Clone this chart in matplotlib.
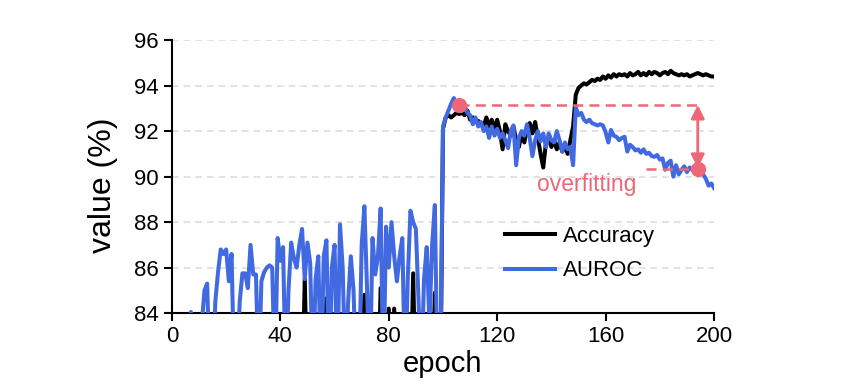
import numpy as np
import matplotlib
matplotlib.use('Agg')
import matplotlib.pyplot as plt

plt.rcParams['font.family'] = ['Liberation Sans', 'DejaVu Sans']

# epochs 0..200
epoch = np.arange(0, 201)

# accuracy (%) , values under 84 fall below the axis
accuracy = [
    80, 80, 80, 80, 80, 80, 80, 80, 80, 80,
    80, 80, 80, 80, 80, 80, 80, 80, 80, 80,
    80, 80, 80, 80, 80, 80, 80, 80, 80, 80,
    80, 80, 80, 80, 80, 80, 80, 80, 80, 80,
    80, 80, 80, 80, 80, 80, 80, 80, 80, 85.5,
    80, 80, 80, 80, 80, 80, 80, 84.65, 80, 80,
    80, 80, 80, 80, 80, 80, 80, 80, 80, 80,
    80, 84.8, 80, 80, 80, 80, 80, 85.1, 80, 80,
    84.2, 80, 84.2, 80, 80, 80, 80, 80, 80, 85.75,
    80, 80, 80, 80, 80, 80, 80, 84.9, 80, 80,
    92.1, 92.6, 92.7, 92.6, 92.7, 92.8, 92.75, 92.8, 92.7, 92.9,
    92.5, 92.6, 92.4, 92.45, 92.3, 92.2, 92.6, 92.2, 92.5, 92.1,
    92.5, 92.0, 91.2, 92.3, 92.0, 91.8, 92.2, 91.6, 91.3, 91.9,
    91.5, 92.1, 92.35, 91.9, 92.4, 91.7, 91.0, 90.4, 91.5, 91.7,
    91.3, 91.6, 91.2, 91.5, 91.1, 91.3, 91.0, 91.6, 92.2, 93.6,
    93.9, 94.0, 94.1, 94.05, 94.15, 94.25, 94.2, 94.3, 94.25, 94.4,
    94.3, 94.45, 94.35, 94.5, 94.4, 94.5, 94.45, 94.5, 94.4, 94.55,
    94.45, 94.5, 94.6, 94.45, 94.55, 94.45, 94.6, 94.5, 94.6, 94.55,
    94.45, 94.55, 94.6, 94.5, 94.65, 94.55, 94.5, 94.45, 94.5, 94.45,
    94.5, 94.4, 94.45, 94.5, 94.55, 94.5, 94.45, 94.5, 94.45, 94.4,
    94.4,
]

# AUROC (%)
auroc = [
    80, 80, 80, 80, 80, 80, 80, 84.05, 82, 80,
    80, 83.5, 85.0, 85.3, 81, 81, 84.5, 85.8, 86.8, 86.6,
    86.8, 85.4, 86.6, 81, 81, 84.5, 85.75, 85.75, 85.1, 87.0,
    85.7, 85.7, 81, 85.4, 85.8, 86.0, 86.1, 86.0, 81, 87.3,
    86.3, 86.9, 81, 85.0, 87.1, 86.4, 86.0, 87.0, 87.7, 85.5,
    87.1, 86.2, 81, 85.5, 86.5, 81, 86.5, 87.2, 81, 86.0,
    87.0, 81, 87.9, 86.0, 81, 84.5, 86.5, 85.0, 81, 81,
    87.0, 88.7, 85.0, 81, 87.3, 85.7, 86.5, 88.6, 81, 87.8,
    86.0, 88.0, 86.5, 85.4, 86.5, 87.3, 81, 85.5, 88.5, 88.0,
    87.7, 84.5, 81, 85.5, 86.9, 83.5, 87.0, 88.75, 81, 81,
    92.2, 92.6, 92.9, 93.2, 93.45, 93.2, 93.1, 92.9, 93.1, 92.8,
    92.7, 92.3, 92.6, 92.2, 92.4, 92.0, 92.2, 91.7, 92.2, 91.8,
    92.1, 91.7, 91.9, 91.6, 91.25, 92.0, 92.25, 90.5, 91.7, 92.0,
    91.8, 92.3, 91.7, 90.9, 91.6, 92.0, 91.55, 91.9, 91.3, 91.9,
    91.6, 91.5, 92.0, 91.6, 91.1, 91.5, 91.2, 91.3, 90.5, 93.05,
    92.7, 92.8, 92.5, 92.4, 92.5, 92.35, 92.3, 92.25, 92.3, 92.25,
    91.95, 91.5, 92.05, 91.8, 91.75, 91.6, 91.7, 91.75, 91.1, 91.4,
    91.3, 91.15, 91.2, 91.05, 91.2, 91.0, 91.05, 90.9, 90.87, 90.95,
    90.75, 90.8, 90.3, 90.6, 90.7, 90.0, 90.5, 90.1, 90.3, 90.45,
    90.2, 90.4, 90.3, 90.4, 90.3, 90.3, 90.1, 89.9, 89.6, 89.7,
    89.5,
]

best_epoch, best_val = 106, 93.15     # best AUROC
last_epoch, last_val = 194, 90.33     # late AUROC
overfit_start = 175

red = '#EE6677'
blue = '#4169E1'

fig = plt.figure(figsize=(8.47, 3.89), dpi=100)
ax = fig.add_axes([0.203, 0.195, 0.640, 0.702])

ax.plot(epoch, accuracy, color='black', lw=2.9, label='Accuracy', zorder=3)
ax.plot(epoch, auroc, color=blue, lw=2.9, label='AUROC', zorder=4)

# overfitting marks
ax.plot([best_epoch, last_epoch + 1.5], [best_val, best_val], color=red, lw=1.8, ls=(0, (4, 2.5)), zorder=5)
ax.plot([overfit_start, last_epoch], [last_val, last_val], color=red, lw=1.8, ls=(0, (4, 2.5)), zorder=5)
ax.plot([best_epoch, last_epoch], [best_val, last_val], 'o', color=red, ms=10, zorder=6)
ax.annotate('', xy=(last_epoch, last_val + 0.05), xytext=(last_epoch, best_val),
            arrowprops=dict(arrowstyle='<|-|>', color=red, lw=2, mutation_scale=20,
                            shrinkA=0, shrinkB=0), zorder=6)
ax.text(153, 89.67, 'overfitting', color=red, fontsize=16.5, ha='center', va='center')

ax.set_xlim(0, 200)
ax.set_ylim(84, 96)
ax.set_xticks(range(0, 201, 40))
ax.set_yticks(range(84, 97, 2))
ax.tick_params(labelsize=16, width=1.5, length=6, direction='out')
for s in ['top', 'right']:
    ax.spines[s].set_visible(False)
for s in ['left', 'bottom']:
    ax.spines[s].set_linewidth(1.5)
ax.yaxis.grid(True, ls=(0, (4, 3)), color='#dddddd', lw=1.2)
ax.set_axisbelow(True)

ax.set_xlabel('epoch', fontsize=21, labelpad=2)
ax.set_ylabel('value (%)', fontsize=23)
ax.yaxis.set_label_coords(-0.1, 0.47)

ax.legend(loc='upper left', bbox_to_anchor=(505 / 847, 1 - 226 / 389), bbox_transform=fig.transFigure,
          frameon=False, fontsize=16, handlelength=2.25, handletextpad=0.36,
          labelspacing=0.6, borderpad=0, borderaxespad=0)

plt.savefig('out.png', dpi=100)
